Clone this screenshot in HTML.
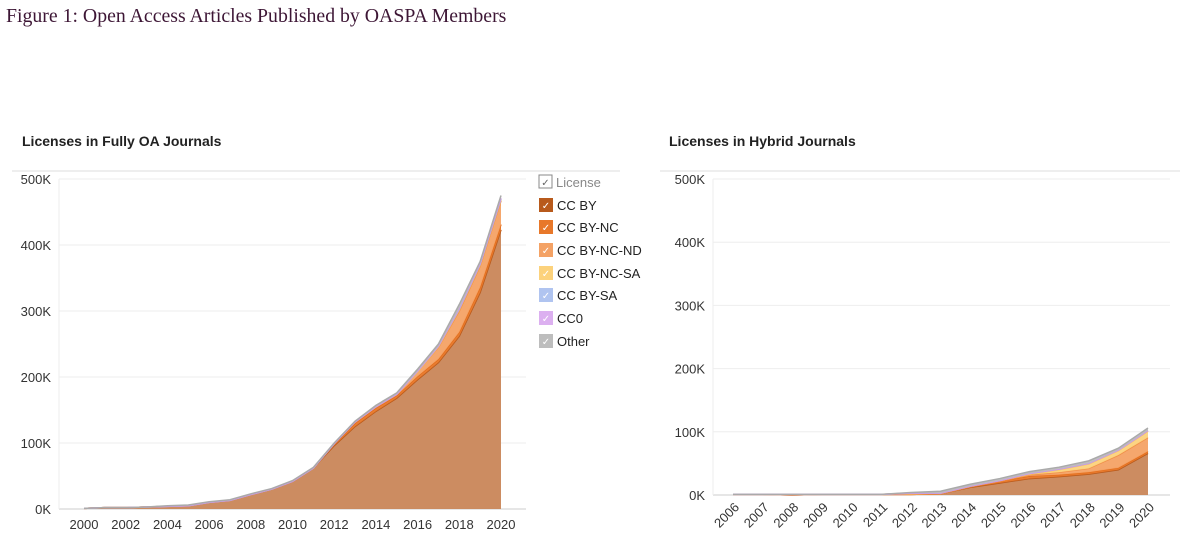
<!DOCTYPE html>
<html><head><meta charset="utf-8"><style>
html,body{margin:0;padding:0;background:#fff;width:1200px;height:546px;overflow:hidden}
svg{display:block}
text{font-family:"Liberation Sans",sans-serif}
</style></head><body>
<svg id="c" width="1200" height="546">
<text x="6" y="22" style="font-family:'Liberation Serif',serif" font-size="19.8" fill="#3d1635">Figure 1: Open Access Articles Published by OASPA Members</text>
<text x="22" y="146" font-size="14" font-weight="bold" fill="#222">Licenses in Fully OA Journals</text>
<text x="669" y="146" font-size="14" font-weight="bold" fill="#222">Licenses in Hybrid Journals</text>
<line x1="12" y1="171" x2="620" y2="171" stroke="#eee" stroke-width="2"/>
<line x1="660" y1="171" x2="1180" y2="171" stroke="#eee" stroke-width="2"/>
<g id="left"></g>
<g id="right"></g>
<g id="legend"></g>
</svg>
<script>
const seriesNames=["CC BY","CC BY-NC","CC BY-NC-ND","CC BY-NC-SA","CC BY-SA","CC0","Other"];
const fills=["#c98658","#e8782a","#f4a265","#fcd27c","#b0c4f0","#dcb0f0","#bdbdbd"];
const lines=["#b85a1c","#e36d1a","#f08e48","#f8c860","#9ab0e8","#cc98e8","#aaaaaa"];
const yTicks=[0,100,200,300,400,500];
const yTickLabels=["0K","100K","200K","300K","400K","500K"];
// Fully OA (thousands)
const oaYears=[2000,2001,2002,2003,2004,2005,2006,2007,2008,2009,2010,2011,2012,2013,2014,2015,2016,2017,2018,2019,2020];
const oaTickLabels=["2000","2002","2004","2006","2008","2010","2012","2014","2016","2018","2020"];
const oaCCBY=[1,2,2,3,4,5,10,13,22,30,42,62,96,125,148,168,196,222,262,328,423];
const oaNC=[0,0,0,0,0,0,0,0,0,0,0,0,2,5,5,4,5,5,6,8,8];
const oaNCND=[0,0,0,0,0,0,0,0,0,0,0,0,1,2,2,2,7,18,32,32,36];
const oaNCSA=[0,0,0,0,0,0,0,0,0,0,0,0,0,0,0,0,0,1,2,2,2];
const oaSA=[0,0,0,0,0,0,0,0,0,0,0,0,0,0,0,0,1,1,1,1,1];
const oaCC0=[0,0,0,0,0,0,0,0,0,0,0,0,0,0,0,0,0,0,1,1,1];
const oaOther=[0,0,0,0,1,1,1,1,1,1,1,1,1,1,2,2,3,3,6,3,4];
// Hybrid (thousands)
const hyYears=[2006,2007,2008,2009,2010,2011,2012,2013,2014,2015,2016,2017,2018,2019,2020];
const hyCCBY=[1,1,0,1,1,1,1,2,12,19,26,29,33,40,66];
const hyNC=[0,0,0,0,0,0,0,0,1,3,4,3,3,3,3];
const hyNCND=[0,0,0,0,0,0,0,0,0,0,2,4,6,20,22];
const hyNCSA=[0,0,1,0,0,0,2,1,1,1,1,4,7,7,10];
const hySA=[0,0,0,0,0,0,0,0,0,0,1,1,1,1,1];
const hyCC0=[0,0,0,0,0,0,0,0,0,0,0,0,0,0,0];
const hyOther=[0,0,0,0,0,0,1,3,3,3,3,3,4,3,4];

const NS="http://www.w3.org/2000/svg";
function mk(p,t,a){const e=document.createElementNS(NS,t);for(const k in a)e.setAttribute(k,a[k]);p.appendChild(e);return e;}

function chart(g,cfg){
  const {years,series,px0,px1,y0,y1,axL,axR,rot,labelYears}=cfg;
  const xs=v=>px0+(v-years[0])/(years[years.length-1]-years[0])*(px1-px0);
  const ys=v=>y0-v/500*(y0-y1);
  yTicks.forEach((t,i)=>{
    const gl=mk(g,"line",{x1:axL,x2:axR,y1:ys(t),y2:ys(t),stroke:i==0?"#ccc":"#eee","stroke-width":1});
    
    
    const tl=mk(g,"text",{x:axL-8,y:ys(t)+5,"text-anchor":"end","font-size":13,fill:"#333"});
    tl.textContent=yTickLabels[i];
    
    
  });
  mk(g,"line",{x1:axL,x2:axL,y1:y1,y2:y0,stroke:"#eee"});
  const cum=years.map(()=>0);
  series.forEach((s,si)=>{
    const lo=cum.slice();
    s.forEach((v,i)=>cum[i]+=v);
    let d="M"+years.map((yr,i)=>xs(yr)+","+ys(cum[i])).join("L");
    d+="L"+years.slice().reverse().map((yr,j)=>{const i=years.length-1-j;return xs(yr)+","+ys(lo[i]);}).join("L")+"Z";
    const a=mk(g,"path",{d:d,fill:fills[si],"fill-opacity":0.95});
    
    
    const l=mk(g,"path",{d:"M"+years.map((yr,i)=>xs(yr)+","+ys(cum[i])).join("L"),fill:"none",stroke:lines[si],"stroke-width":1.5});
    
    
  });
  labelYears.forEach(lb=>{
    const xv=xs(+lb);
    let t;
    if(rot){t=mk(g,"text",{x:xv+7,y:y0+13,"text-anchor":"end","font-size":13,fill:"#333",transform:`rotate(-45 ${xv+7} ${y0+13})`});}
    else t=mk(g,"text",{x:xv,y:y0+20,"text-anchor":"middle","font-size":13,fill:"#333"});
    t.textContent=lb;
    
    
  });
}
chart(document.getElementById("left"),{years:oaYears,series:[oaCCBY,oaNC,oaNCND,oaNCSA,oaSA,oaCC0,oaOther],px0:84,px1:501,y0:509,y1:179,axL:59,axR:526,rot:false,labelYears:oaTickLabels});
chart(document.getElementById("right"),{years:hyYears,series:[hyCCBY,hyNC,hyNCND,hyNCSA,hySA,hyCC0,hyOther],px0:733,px1:1148,y0:495,y1:179,axL:713,axR:1170,rot:true,labelYears:hyYears.map(String)});

const lg=document.getElementById("legend");
const lgY=[182,205,227,250,273,295,318,341];
const hdr=mk(lg,"rect",{x:539,y:lgY[0]-7,width:13,height:13,fill:"#fff",stroke:"#888"});


const hc=mk(lg,"text",{x:545.5,y:lgY[0]+4,"text-anchor":"middle","font-size":10,fill:"#666"});hc.textContent="✓";
const ht=mk(lg,"text",{x:556,y:lgY[0]+5,"font-size":13,fill:"#888"});ht.textContent="License";


seriesNames.forEach((n,i)=>{
  const y=lgY[i+1];
  const r=mk(lg,"rect",{x:539,y:y-7,width:14,height:14,fill:i==0?"#b85a1c":fills[i]});
  
  
  const c=mk(lg,"text",{x:546,y:y+4,"text-anchor":"middle","font-size":10,fill:"#fff"});c.textContent="✓";
  const t=mk(lg,"text",{x:557,y:y+5,"font-size":13,fill:"#222"});t.textContent=n;
  
  
});
</script>
</body></html>
